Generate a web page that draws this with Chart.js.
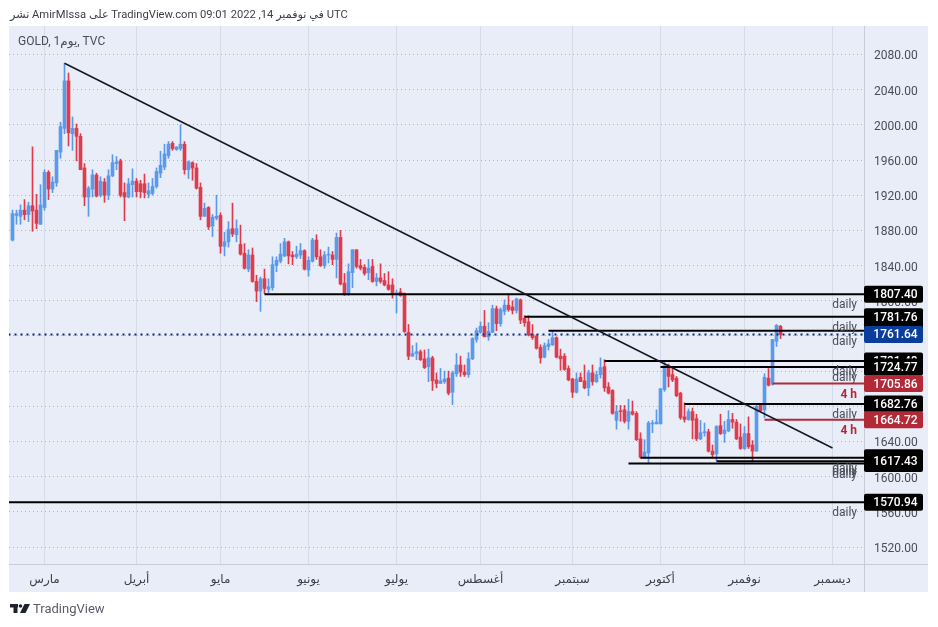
<!DOCTYPE html>
<html>
<head>
<meta charset="utf-8">
<style>
    html, body { margin: 0; padding: 0; background: #fff; }
    canvas { display: block; }
</style>
<script src="https://cdn.jsdelivr.net/npm/chart.js@4/dist/chart.umd.js"></script>
</head>
<body>
<canvas id="chart" width="938" height="627"></canvas>
<script>
// Daily GOLD candles
const opens = [
    1869,1897,1896,1903,1898,1908,1903,1887,1906,1946,
    1927,1934,1969,1996,2050,1990,1996,1987,1951,1918,
    1927,1943,1920,1935,1920,1942,1956,1959,1923,1918,
    1932,1936,1933,1933,1921,1922,1930,1945,1952,1965,
    1979,1972,1973,1978,1949,1957,1951,1929,1896,1906,
    1885,1894,1897,1862,1867,1882,1875,1864,1854,1836,
    1852,1822,1811,1825,1813,1815,1840,1845,1851,1867,
    1852,1850,1852,1857,1835,1845,1869,1850,1840,1852,
    1852,1847,1872,1820,1807,1832,1858,1840,1838,1832,
    1839,1822,1826,1823,1818,1818,1807,1810,1808,1764,
    1737,1740,1742,1734,1725,1735,1710,1706,1708,1712,
    1696,1717,1727,1719,1716,1734,1756,1764,1771,1759,
    1764,1791,1774,1788,1795,1793,1789,1801,1780,1776,
    1762,1760,1747,1736,1748,1750,1758,1737,1737,1723,
    1711,1696,1713,1709,1701,1718,1708,1716,1725,1702,
    1698,1664,1675,1676,1663,1674,1672,1643,1622,1627,
    1660,1660,1660,1699,1726,1716,1712,1695,1668,1665,
    1674,1666,1643,1650,1651,1629,1626,1658,1649,1652,
    1665,1662,1645,1632,1649,1636,1629,1681,1676,1712,
    1705,1754,1771,
];
const highs = [
    1903,1903,1909,1915,1912,1975,1921,1932,1949,1948,
    1941,1971,2003,2070,2059,2009,2001,1990,1956,1930,
    1949,1945,1941,1939,1949,1966,1964,1961,1934,1939,
    1950,1939,1937,1944,1934,1939,1951,1970,1978,1981,
    1981,1975,2000,1981,1959,1958,1956,1934,1911,1907,
    1898,1920,1900,1878,1890,1911,1892,1886,1865,1858,
    1860,1829,1827,1836,1825,1850,1850,1865,1871,1868,
    1856,1862,1865,1858,1850,1871,1875,1858,1856,1861,
    1856,1877,1880,1831,1842,1858,1858,1847,1841,1847,
    1847,1831,1842,1831,1833,1825,1812,1814,1809,1773,
    1749,1752,1744,1744,1745,1737,1718,1723,1720,1720,
    1720,1740,1737,1727,1741,1758,1769,1776,1789,1775,
    1795,1794,1792,1801,1808,1800,1803,1802,1783,1783,
    1773,1761,1750,1752,1756,1766,1759,1745,1740,1726,
    1712,1718,1718,1727,1721,1727,1720,1735,1733,1707,
    1699,1681,1681,1681,1688,1686,1674,1650,1642,1663,
    1664,1676,1700,1730,1728,1725,1714,1696,1684,1677,
    1678,1671,1664,1661,1654,1636,1658,1671,1663,1675,
    1672,1665,1660,1657,1668,1641,1682,1682,1717,1723,
    1756,1773,1772,
];
const lows = [
    1868,1887,1887,1892,1890,1879,1882,1887,1903,1915,
    1923,1930,1962,1990,1976,1971,1959,1949,1908,1896,
    1918,1918,1918,1912,1915,1941,1949,1918,1891,1917,
    1918,1918,1917,1917,1917,1920,1928,1940,1949,1962,
    1971,1971,1971,1944,1939,1937,1927,1892,1896,1881,
    1873,1892,1854,1851,1861,1873,1867,1852,1836,1833,
    1821,1799,1788,1808,1809,1812,1833,1843,1850,1842,
    1841,1848,1848,1835,1828,1844,1847,1839,1837,1843,
    1841,1826,1818,1806,1806,1815,1837,1835,1829,1824,
    1821,1817,1820,1817,1812,1803,1786,1805,1764,1733,
    1737,1733,1732,1723,1708,1698,1701,1706,1706,1693,
    1682,1714,1714,1714,1713,1733,1753,1763,1759,1755,
    1764,1766,1771,1784,1788,1785,1786,1774,1771,1760,
    1756,1745,1729,1735,1744,1749,1735,1721,1721,1709,
    1690,1695,1708,1700,1692,1704,1707,1712,1697,1694,
    1671,1654,1663,1661,1654,1670,1641,1621,1621,1615,
    1650,1660,1660,1697,1702,1708,1691,1665,1662,1664,
    1643,1641,1642,1646,1628,1621,1618,1648,1639,1651,
    1655,1642,1631,1631,1632,1617,1629,1674,1667,1703,
    1704,1748,1757,
];
const closes = [
    1899,1899,1903,1898,1908,1902,1888,1909,1946,1927,
    1935,1971,1998,2050,1991,1996,1987,1949,1918,1928,
    1943,1919,1936,1920,1942,1957,1958,1920,1918,1933,
    1936,1924,1924,1923,1925,1930,1947,1954,1967,1978,
    1973,1975,1978,1949,1958,1951,1928,1896,1905,1884,
    1895,1896,1862,1867,1881,1876,1882,1853,1837,1852,
    1822,1811,1825,1814,1816,1841,1846,1853,1867,1851,
    1850,1853,1857,1836,1846,1869,1850,1840,1852,1853,
    1847,1872,1819,1807,1833,1858,1839,1837,1831,1837,
    1822,1826,1822,1818,1813,1807,1809,1806,1765,1737,
    1740,1742,1733,1724,1735,1709,1706,1709,1711,1695,
    1718,1727,1719,1716,1734,1757,1766,1771,1759,1765,
    1791,1774,1790,1795,1790,1789,1802,1778,1775,1761,
    1758,1746,1735,1749,1751,1758,1736,1734,1722,1710,
    1696,1711,1708,1701,1718,1708,1716,1724,1701,1695,
    1672,1674,1674,1663,1674,1671,1642,1622,1628,1661,
    1661,1662,1700,1726,1714,1710,1692,1667,1665,1674,
    1664,1643,1650,1651,1629,1625,1657,1649,1653,1665,
    1662,1643,1632,1649,1634,1629,1680,1675,1713,1704,
    1756,1772,1761.64,
];

// Month labels and the candle index where each month starts
const monthNames = ['مارس', 'أبريل', 'مايو', 'يونيو', 'يوليو', 'أغسطس', 'سبتمبر', 'أكتوبر', 'نوفمبر', 'ديسمبر'];
const monthStarts = [8, 31, 52, 74, 96, 117, 140, 162, 183, 205];
const priceTicks = [2080, 2040, 2000, 1960, 1920, 1880, 1840, 1800, 1760, 1720, 1680, 1640, 1600, 1560, 1520];

// Drawn levels: hidden labels come first so the later boxes cover them
const levelPrices = [1765.8, 1731.48, 1807.40, 1781.76, 1724.77, 1705.86, 1682.76, 1664.72, 1621.5, 1614.9, 1617.43, 1570.94];
const levelStarts = [134, 148, 63, 128, 162, 190, 168, 188, 157, 154, 176, -1];
const levelKinds = ['daily', 'daily', 'daily', 'daily', 'daily', '4 h', 'daily', '4 h', 'daily', 'daily', 'daily', 'daily'];

const lastPrice = 1761.64;
const trendX = [13, 205];
const trendY = [2070, 1632.6];

const X_MIN = -0.875, X_MAX = 212.875;
const BLUE = '#5b99ea', RED = '#e03b4c', DARK_RED = '#b22a38', NAVY = '#0b3d9c';
const TEXT = '#4a4d57';
const FONT = "Roboto, 'DejaVu Sans', sans-serif";

const candleColors = closes.map((c, i) => (c >= opens[i] ? BLUE : RED));
const levelColor = (i) => (levelKinds[i] === '4 h' ? DARK_RED : '#000000');

const levelDatasets = levelPrices.map((p, i) => ({
    type: 'line',
    data: [{ x: levelStarts[i], y: p }, { x: X_MAX, y: p }],
    borderColor: levelColor(i),
    borderWidth: 2,
    pointRadius: 0,
    order: 1,
}));

// Panel, header, footer logo
const backdropPlugin = {
    id: 'backdrop',
    beforeDraw(chart) {
        const { ctx } = chart;
        ctx.save();
        ctx.fillStyle = '#e8edf8';
        ctx.fillRect(9, 26, 919, 566);
        ctx.restore();
    },
    afterDraw(chart) {
        const { ctx } = chart;
        const y = chart.scales.y;
        ctx.save();

        ctx.strokeStyle = '#c5cbd9';
        ctx.lineWidth = 1;
        ctx.beginPath();
        ctx.moveTo(9, 564.5);
        ctx.lineTo(928, 564.5);
        ctx.moveTo(864.5, 26);
        ctx.lineTo(864.5, 592);
        ctx.stroke();

        // level captions
        ctx.textBaseline = 'middle';
        ctx.textAlign = 'right';
        levelPrices.forEach((p, i) => {
            const is4h = levelKinds[i] === '4 h';
            ctx.font = (is4h ? 'bold ' : '') + '12px ' + FONT;
            ctx.fillStyle = is4h ? DARK_RED : TEXT;
            ctx.fillText(levelKinds[i], 857, y.getPixelForValue(p) + 11);
        });

        // price boxes on the axis
        const box = (p, color) => {
            const py = y.getPixelForValue(p);
            ctx.fillStyle = color;
            ctx.beginPath();
            ctx.roundRect(864, py - 8.5, 59, 17, 2);
            ctx.fill();
            ctx.fillStyle = '#ffffff';
            ctx.font = '500 12px ' + FONT;
            ctx.textAlign = 'center';
            ctx.fillText(p.toFixed(2), 895.5, py + 1);
        };
        levelPrices.forEach((p, i) => box(p, levelColor(i)));
        box(lastPrice, NAVY);

        // header and symbol
        ctx.textAlign = 'left';
        ctx.direction = 'ltr';
        ctx.fillStyle = '#3c3f49';
        ctx.font = '11.2px ' + FONT;
        ctx.fillText('نشر AmirMIssa على TradingView.com 09:01 2022 ,14 في نوفمبر UTC', 10, 15);
        ctx.fillStyle = TEXT;
        ctx.font = '12px ' + FONT;
        ctx.fillText('GOLD, 1يوم, TVC', 18, 42);

        // footer logo
        ctx.fillStyle = '#1e222d';
        ctx.fillRect(10, 604, 8, 3.5);
        ctx.fillRect(13.5, 604, 4, 9);
        ctx.beginPath();
        ctx.arc(20.5, 606, 1.8, 0, Math.PI * 2);
        ctx.fill();
        ctx.beginPath();
        ctx.moveTo(24.5, 604);
        ctx.lineTo(30, 604);
        ctx.lineTo(25.5, 613);
        ctx.lineTo(20, 613);
        ctx.closePath();
        ctx.fill();
        ctx.fillStyle = '#5a5d68';
        ctx.font = '13px ' + FONT;
        ctx.fillText('TradingView', 33, 609.5);
        ctx.restore();
    },
};

new Chart(document.getElementById('chart'), {
    type: 'bar',
    data: {
        datasets: [
            {
                label: 'bodies',
                data: opens.map((o, i) => ({ x: i, y: [o, closes[i]] })),
                backgroundColor: candleColors,
                barThickness: 3,
                grouped: false,
                order: 2,
            },
            {
                label: 'wicks',
                data: lows.map((l, i) => ({ x: i, y: [l, highs[i]] })),
                backgroundColor: candleColors,
                barThickness: 1,
                grouped: false,
                order: 3,
            },
            ...levelDatasets,
            {
                type: 'line',
                label: 'last',
                data: [{ x: -1, y: lastPrice }, { x: X_MAX, y: lastPrice }],
                borderColor: '#0b2a78',
                borderWidth: 2,
                borderDash: [2, 4],
                pointRadius: 0,
                order: 1,
            },
            {
                type: 'line',
                label: 'trend',
                data: trendX.map((x, i) => ({ x, y: trendY[i] })),
                borderColor: '#131722',
                borderWidth: 1.5,
                pointRadius: 0,
                order: 0,
            },
        ],
    },
    options: {
        responsive: false,
        animation: false,
        events: [],
        layout: { padding: { left: 9, top: 26, right: 10, bottom: 35 } },
        plugins: { legend: { display: false }, tooltip: { enabled: false } },
        scales: {
            x: {
                type: 'linear',
                min: X_MIN,
                max: X_MAX,
                offset: false,
                afterBuildTicks(axis) { axis.ticks = monthStarts.map((value) => ({ value })); },
                afterFit(axis) { axis.height = 28; },
                grid: { color: '#d5dbe8', drawTicks: false, offset: false },
                border: { color: '#c5cbd9' },
                ticks: {
                    autoSkip: false,
                    maxRotation: 0,
                    padding: 9,
                    color: '#3c3f49',
                    font: { family: FONT, size: 12 },
                    callback: (value) => monthNames[monthStarts.indexOf(value)],
                },
            },
            y: {
                position: 'right',
                min: 1500.7,
                max: 2112.4,
                afterBuildTicks(axis) { axis.ticks = priceTicks.map((value) => ({ value })); },
                afterFit(axis) { axis.width = 64; },
                grid: { color: '#aeb5c4', drawTicks: false },
                border: { color: '#c5cbd9', dash: [1, 3] },
                ticks: {
                    padding: 10,
                    labelOffset: 2,
                    color: TEXT,
                    font: { family: FONT, size: 12 },
                    callback: (value) => value.toFixed(2),
                },
            },
        },
    },
    plugins: [backdropPlugin],
});
</script>
</body>
</html>
